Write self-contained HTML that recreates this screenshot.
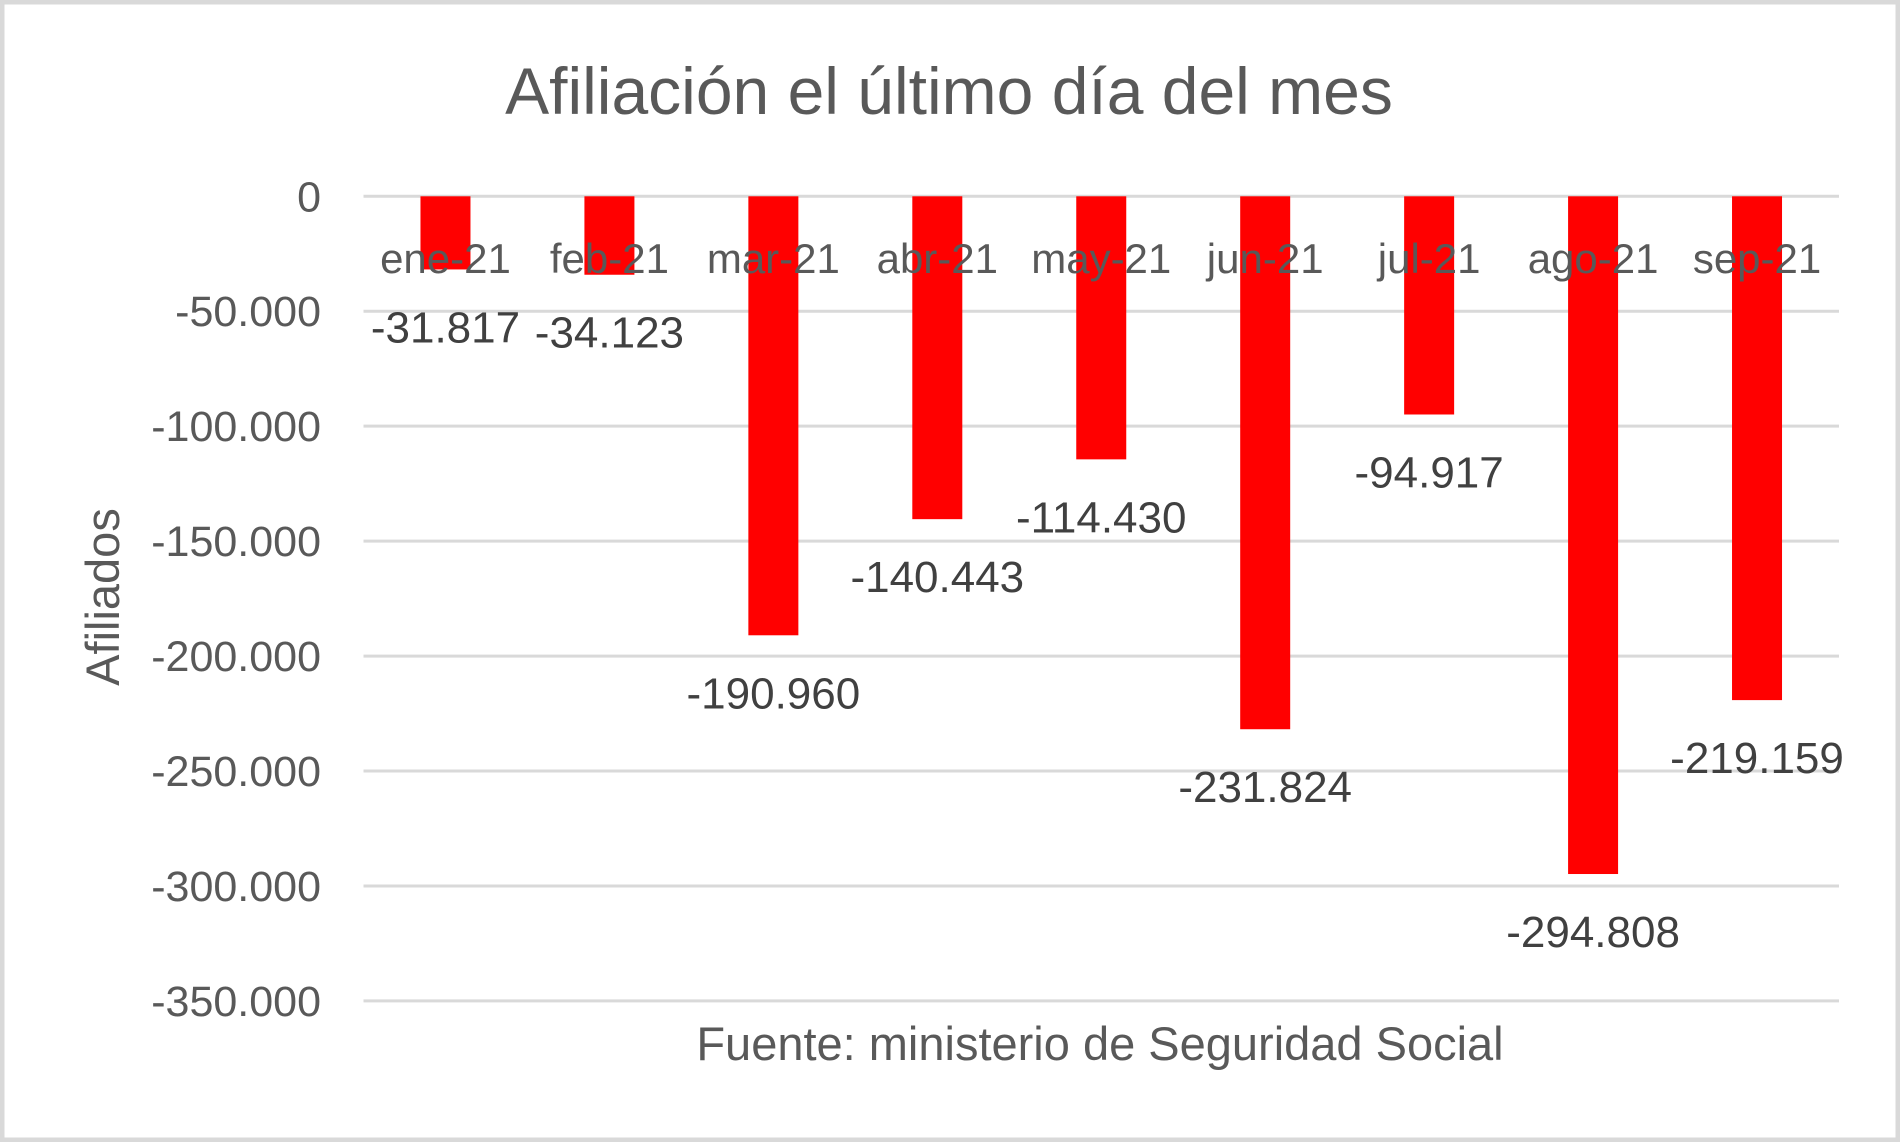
<!DOCTYPE html>
<html><head><meta charset="utf-8"><style>
html,body{margin:0;padding:0;background:#fff;}
svg{display:block;font-family:"Liberation Sans",sans-serif;}
</style></head><body>
<svg id="chart" width="1900" height="1142" viewBox="0 0 1900 1142">
<rect x="2" y="2" width="1896" height="1138" fill="#fff" stroke="#d9d9d9" stroke-width="5"/>
<text x="949" y="114" text-anchor="middle" font-size="66" fill="#595959">Afiliación el último día del mes</text>
<text transform="translate(119,597) rotate(-90)" text-anchor="middle" font-size="47" fill="#595959">Afiliados</text>
<text x="1100" y="1060" text-anchor="middle" font-size="47" fill="#595959">Fuente: ministerio de Seguridad Social</text>
<g id="grid"></g><g id="bars"></g><g id="labels"></g>
</svg>
<script>
const categories = ["ene-21","feb-21","mar-21","abr-21","may-21","jun-21","jul-21","ago-21","sep-21"];
const values = [-31817,-34123,-190960,-140443,-114430,-231824,-94917,-294808,-219159];
const valueLabels = ["-31.817","-34.123","-190.960","-140.443","-114.430","-231.824","-94.917","-294.808","-219.159"];
const yTicks = [0,-50000,-100000,-150000,-200000,-250000,-300000,-350000];
const yTickLabels = ["0","-50.000","-100.000","-150.000","-200.000","-250.000","-300.000","-350.000"];

const NS="http://www.w3.org/2000/svg";
const x0=363.5,x1=1839,yTop=196.3,yBot=1000.9;
const yScale=v=>yTop+(0-v)/350000*(yBot-yTop);
const band=(x1-x0)/categories.length;
const xCenter=i=>x0+band*(i+0.5);
const barW=50;
function mk(t,a,p){const e=document.createElementNS(NS,t);for(const k in a)e.setAttribute(k,a[k]);p.appendChild(e);return e;}
const grid=document.getElementById('grid'),bars=document.getElementById('bars'),labels=document.getElementById('labels');
yTicks.forEach((t,i)=>{
  const y=yScale(t);
  const l=mk('line',{x1:x0,x2:x1,y1:y,y2:y,stroke:'#d9d9d9','stroke-width':3},grid);
  
  
  const tx=mk('text',{x:321,y:y+15,'text-anchor':'end','font-size':43,fill:'#595959'},grid);
  
  
  tx.textContent=yTickLabels[i];
});
values.forEach((v,i)=>{
  const cx=xCenter(i),y0=yScale(0),y=yScale(v);
  const r=mk('rect',{x:cx-barW/2,y:y0,width:barW,height:y-y0,fill:'#ff0000'},bars);
  
  
  const vl=mk('text',{x:cx,y:y+73,'text-anchor':'middle','font-size':44,fill:'#404040'},labels);
  
  
  vl.textContent=valueLabels[i];
});
categories.forEach((c,i)=>{
  const t=mk('text',{x:xCenter(i),y:273,'text-anchor':'middle','font-size':42,fill:'#595959'},labels);
  
  
  t.textContent=c;
});
</script>
</body></html>
